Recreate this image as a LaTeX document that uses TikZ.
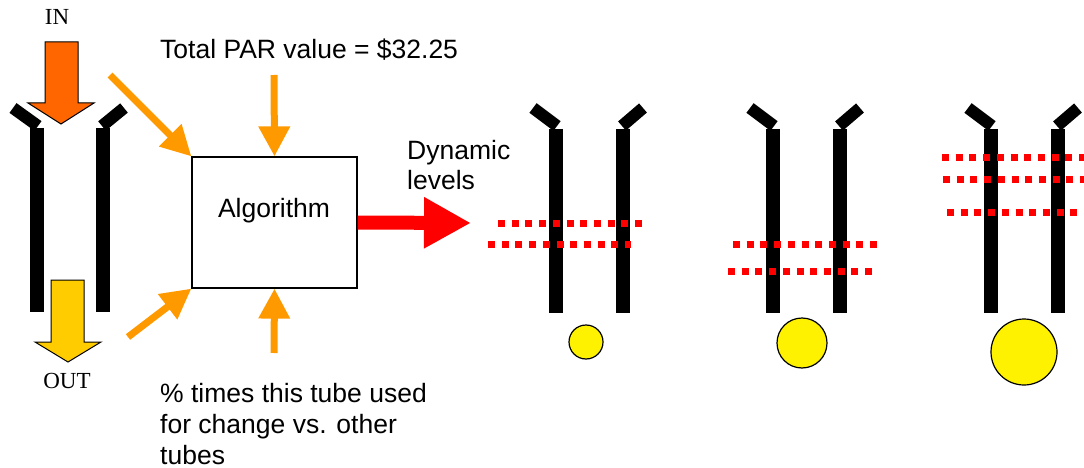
\documentclass[tikz,border=0pt]{standalone}
\usepackage{fontspec}
\setmainfont{Liberation Sans}
\newfontfamily\timesfont{Liberation Serif}
\usetikzlibrary{arrows.meta}
\definecolor{inorange}{HTML}{FF6600}
\definecolor{outyellow}{HTML}{FFCC00}
\definecolor{feedorange}{HTML}{FF9900}

\begin{document}
\begin{tikzpicture}[x=1pt,y=-1pt,
        bar/.style={line width=14pt,black},
        stub/.style={line width=12pt,black},
        feed/.style={feedorange,line width=7pt,-{Triangle[length=30pt,width=30pt]}},
        levels/.style={red,line width=7pt,dash pattern=on 7pt off 6.7pt},
        ball/.style={draw=black,fill=yellow,line width=1.2pt},
        txt/.style={font=\fontsize{26.5}{31}\selectfont,inner sep=0pt}]
        \useasboundingbox (0,0) rectangle (1084,468);
        % tube being filled
        \draw[bar] (37,128) -- (37,312);
        \draw[bar] (103,128) -- (103,312);
        \draw[stub] (13,108) -- (38,126);
        \draw[stub] (124,108) -- (102,126);
        \draw[fill=inorange,line width=1pt] (45,42) -- (78,42) -- (78,103) -- (94,103) -- (61,124) -- (28,103) -- (45,103) -- cycle;
        \draw[fill=outyellow,line width=1pt] (51,280) -- (84,280) -- (84,342) -- (101,342) -- (68,362) -- (35,342) -- (51,342) -- cycle;
        \node[font=\timesfont\fontsize{23}{28}\selectfont,inner sep=0pt] (in) at (57,17) {IN};
        \node[font=\timesfont\fontsize{23}{28}\selectfont,inner sep=0pt] (out) at (67,381) {OUT};
        % algorithm and its inputs
        \node[draw,line width=1.2pt,minimum width=165pt,minimum height=131pt,inner sep=0pt] (algo) at (274.5,222.5) {};
        \node[txt,anchor=base] (algotext) at (274,217) {Algorithm};
        \node[txt,anchor=base west] (par) at (160,59) {Total PAR value = \$32.25};
        \node[txt,anchor=base west,align=left] (usage) at (160,464) {\% times this tube used\\for change vs. other\\tubes};
        \node[txt,anchor=base west,align=left,font=\fontsize{26.5}{30}\selectfont] (dyn) at (407,189) {Dynamic\\levels};
        \coordinate (inflow) at (110,75);
        \coordinate (parsrc) at (274,75);
        \coordinate (outflow) at (128,337);
        \coordinate (usesrc) at (274,353);
        \coordinate (lvtip) at (471,223);
        \draw[feed] (inflow) -- (algo.north west);
        \draw[feed] (parsrc) -- (algo.north);
        \draw[feed] (outflow) -- (algo.south west);
        \draw[feed] (usesrc) -- (algo.south);
        \draw[red,line width=14pt,-{Triangle[length=47pt,width=48pt]}] (algo.east) -- (lvtip);
        % tube with low levels
        \draw[bar] (556,129) -- (556,313);
        \draw[bar] (623,129) -- (623,313);
        \draw[stub] (533,108) -- (557,126);
        \draw[stub] (643,108) -- (622,126);
        \draw[levels] (498,223) -- (642,223);
        \draw[levels] (488,244) -- (631,244);
        \draw[ball] (586,342) circle[radius=17pt];
        % tube with middle levels
        \draw[bar] (773,129) -- (773,313);
        \draw[bar] (840,129) -- (840,313);
        \draw[stub] (750,108) -- (774,126);
        \draw[stub] (860,108) -- (839,126);
        \draw[levels] (733,244) -- (878,244);
        \draw[levels] (728,271) -- (872,271);
        \draw[ball] (802,343) circle[radius=25pt];
        % tube with high levels
        \draw[bar] (991,129) -- (991,313);
        \draw[bar] (1058,129) -- (1058,313);
        \draw[stub] (968,108) -- (992,126);
        \draw[stub] (1078,108) -- (1057,126);
        \draw[levels] (942,157) -- (1090,157);
        \draw[levels] (943,179) -- (1090,179);
        \draw[levels] (947,212) -- (1078,212);
        \draw[ball] (1024,352) circle[radius=33pt];
    \end{tikzpicture}
\end{document}
